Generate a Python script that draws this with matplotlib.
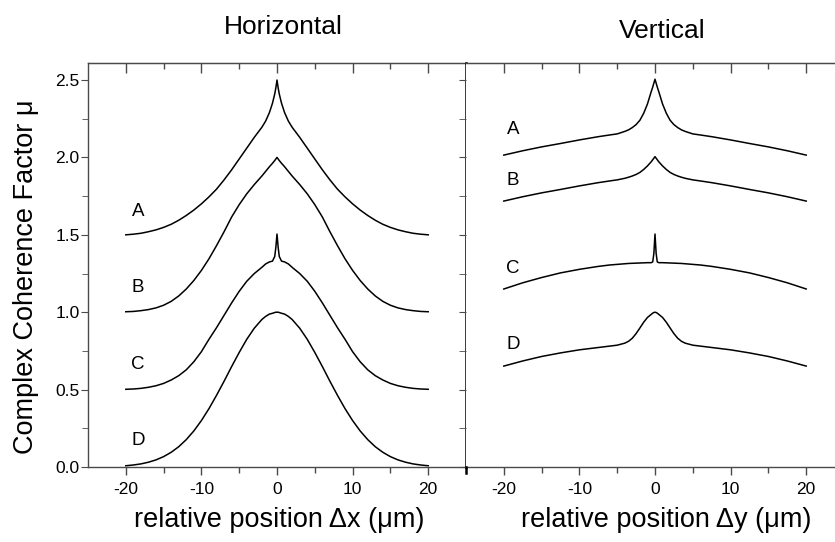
import numpy as np
import matplotlib
matplotlib.use("Agg")
import matplotlib.pyplot as plt
from matplotlib.lines import Line2D

plt.rcParams['font.family'] = ['Liberation Sans', 'DejaVu Sans']
plt.rcParams['axes.unicode_minus'] = False

# ---------------- data ----------------
# Horizontal panel: profiles are symmetric about 0, values given for x >= 0
h_x = [0, 0.15, 0.3, 0.6, 1, 1.5, 2, 3, 4, 5, 6, 7, 8, 9, 10,
       11, 12, 13, 14, 15, 16, 17, 18, 19, 20]
h_A = [2.5, 2.45, 2.41, 2.35, 2.29, 2.235, 2.195, 2.13, 2.06, 1.99, 1.92,
       1.855, 1.795, 1.745, 1.70, 1.66, 1.625, 1.594, 1.568, 1.548, 1.532,
       1.52, 1.51, 1.504, 1.5]
h_B = [2.0, 1.99, 1.98, 1.962, 1.94, 1.91, 1.88, 1.825, 1.765, 1.695, 1.615,
       1.52, 1.43, 1.345, 1.27, 1.205, 1.15, 1.105, 1.07, 1.045, 1.028,
       1.017, 1.01, 1.005, 1.003]
h_C = [1.505, 1.42, 1.36, 1.33, 1.325, 1.312, 1.29, 1.25, 1.20, 1.135, 1.06,
       0.98, 0.90, 0.825, 0.745, 0.68, 0.628, 0.59, 0.562, 0.54, 0.525,
       0.515, 0.508, 0.504, 0.502]
h_D = [1.0, 1.0, 0.998, 0.993, 0.988, 0.973, 0.953, 0.897, 0.825, 0.74,
       0.649, 0.554, 0.463, 0.377, 0.30, 0.233, 0.177, 0.131, 0.095, 0.067,
       0.046, 0.031, 0.020, 0.013, 0.008]

# Vertical panel: symmetric, values for y >= 0
v_x = [0, 0.15, 0.3, 0.5, 1, 1.5, 2, 2.5, 3, 3.5, 4, 5, 6, 7.5, 10,
       12.5, 15, 17.5, 20]
v_A = [2.505, 2.48, 2.455, 2.425, 2.345, 2.285, 2.24, 2.212, 2.193, 2.178,
       2.168, 2.152, 2.145, 2.134, 2.113, 2.09, 2.068, 2.043, 2.015]
v_B = [2.005, 1.995, 1.985, 1.972, 1.945, 1.922, 1.903, 1.89, 1.88, 1.872,
       1.865, 1.855, 1.848, 1.837, 1.816, 1.793, 1.771, 1.746, 1.718]
v_C = [1.505, 1.38, 1.325, 1.32, 1.32, 1.319, 1.318, 1.317, 1.316, 1.315,
       1.313, 1.309, 1.305, 1.296, 1.277, 1.254, 1.224, 1.19, 1.15]
v_D = [1.0, 0.998, 0.994, 0.986, 0.966, 0.935, 0.898, 0.862, 0.832, 0.812,
       0.80, 0.787, 0.781, 0.772, 0.757, 0.737, 0.714, 0.685, 0.652]

curve_names = ["A", "B", "C", "D"]
h_label_x = -18.4
h_label_y = [1.65, 1.16, 0.665, 0.17]
v_label_x = -18.8
v_label_y = [2.18, 1.85, 1.285, 0.79]

y_ticks = [0.0, 0.5, 1.0, 1.5, 2.0, 2.5]
y_ticklabels = ["0.0", "0.5", "1.0", "1.5", "2.0", "2.5"]
x_ticks = [-20, -10, 0, 10, 20]


def full(xh, yh):
    xh = np.asarray(xh, float)
    yh = np.asarray(yh, float)
    return (np.concatenate([-xh[:0:-1], xh]),
            np.concatenate([yh[:0:-1], yh]))


# ---------------- figure ----------------
W, H = 835, 542
fig = plt.figure(figsize=(W / 100, H / 100), dpi=100)
ax1 = fig.add_axes([88 / W, 1 - 467 / H, 378 / W, 404 / H])
ax2 = fig.add_axes([466 / W, 1 - 467 / H, 378 / W, 404 / H])

spine_col = "#4a4a4a"
tick_fs = 12.5
for ax in (ax1, ax2):
    ax.set_xlim(-25, 25)
    ax.set_ylim(0, 2.61)
    for s in ax.spines.values():
        s.set_color(spine_col)
        s.set_linewidth(1.0)
    ax.set_xticks(x_ticks)
    ax.set_xticks([-15, -5, 5, 15], minor=True)
    ax.tick_params(axis='x', which='both', direction='out', top=False,
                   colors=spine_col, labelcolor='black', labelsize=tick_fs,
                   pad=5)
    ax.tick_params(axis='x', which='major', length=6, width=1.0)
    ax.tick_params(axis='x', which='minor', length=4, width=1.0)
    sec = ax.secondary_xaxis('top')
    sec.set_xticks(x_ticks)
    sec.set_xticks([-15, -5, 5, 15], minor=True)
    sec.tick_params(which='both', direction='in', labeltop=False,
                    colors=spine_col)
    sec.tick_params(which='major', length=7, width=1.0)
    sec.tick_params(which='minor', length=4, width=1.0)
    sec.spines['top'].set_color(spine_col)

ax1.set_yticks(y_ticks)
ax1.set_yticklabels(y_ticklabels)
ax1.set_yticks(np.arange(0.25, 2.6, 0.5), minor=True)
ax1.tick_params(axis='y', which='both', direction='out', right=False,
                colors=spine_col, labelcolor='black', labelsize=tick_fs, pad=1)
ax1.tick_params(axis='y', which='major', length=5)
ax1.tick_params(axis='y', which='minor', length=4)
ax1.spines['right'].set_color('black')
ax1.spines['right'].set_linewidth(1.8)
ax1.spines['right'].set_zorder(5)

ax2.set_yticks(y_ticks)
ax2.set_yticks(np.arange(0.25, 2.6, 0.5), minor=True)
ax2.tick_params(axis='y', which='both', direction='out', right=False,
                labelleft=False, colors=spine_col, length=5)
ax2.spines['left'].set_visible(False)

lw = 1.1
for name, yh, ly in zip(curve_names, [h_A, h_B, h_C, h_D], h_label_y):
    xx, yy = full(h_x, yh)
    ax1.plot(xx, yy, color='black', lw=lw)
    ax1.text(h_label_x, ly, name, ha='center', va='center', fontsize=13.5)

for name, yh, ly in zip(curve_names, [v_A, v_B, v_C, v_D], v_label_y):
    xx, yy = full(v_x, yh)
    ax2.plot(xx, yy, color='black', lw=lw)
    ax2.text(v_label_x, ly, name, ha='center', va='center', fontsize=13.5)

# small overhang of the divider below the axes
fig.add_artist(Line2D([466 / W, 466 / W], [1 - 467 / H, 1 - 473 / H],
                      transform=fig.transFigure, color='black', lw=1.8))

fig.text(283 / W, 1 - 27 / H, "Horizontal", ha='center', va='center',
         fontsize=19)
fig.text(662 / W, 1 - 31 / H, "Vertical", ha='center', va='center',
         fontsize=19)
fig.text(279 / W, 1 - 520 / H, "relative position \u0394x (\u03bcm)",
         ha='center', va='center', fontsize=19.5)
fig.text(666 / W, 1 - 520 / H, "relative position \u0394y (\u03bcm)",
         ha='center', va='center', fontsize=19.5)
fig.text(26 / W, 1 - 277 / H, "Complex Coherence Factor \u03bc",
         ha='center', va='center', rotation=90, fontsize=19.5)

fig.savefig("out.png", dpi=100)
